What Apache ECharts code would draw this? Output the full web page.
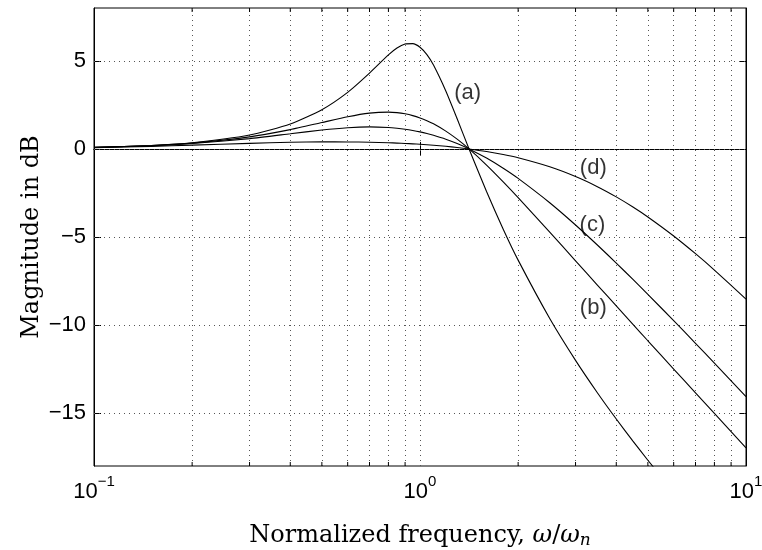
<!DOCTYPE html>
<html>
<head>
<meta charset="utf-8">
<script src="https://cdn.jsdelivr.net/npm/echarts@6/dist/echarts.min.js"></script>
<style>
  html, body { margin: 0; padding: 0; background: #fff; }
  #chart { width: 762px; height: 550px; }
</style>
</head>
<body>
<div id="chart"></div>
<script>
// ---- data ----
const freq = [0.1, 0.15, 0.2, 0.3, 0.4, 0.5, 0.6, 0.7, 0.8, 0.85, 0.9, 0.95, 1.0, 1.05, 1.1, 1.2, 1.3, 1.414, 1.6, 1.8, 2, 2.5, 3, 3.5, 4, 4.5, 5, 6, 7, 8, 10];
const curveA = [0.087, 0.196, 0.349, 0.791, 1.417, 2.229, 3.212, 4.306, 5.337, 5.726, 5.956, 5.979, 5.772, 5.351, 4.761, 3.289, 1.712, 0, -2.420, -4.555, -6.313, -9.625, -12.003, -13.840, -15.332, -16.588, -17.672, -19.478, -20.954, -22.202, -24.247];
const curveB = [0.086, 0.189, 0.327, 0.684, 1.096, 1.498, 1.826, 2.032, 2.089, 2.059, 1.992, 1.892, 1.761, 1.604, 1.424, 1.012, 0.553, 0, -0.914, -1.867, -2.762, -4.724, -6.351, -7.726, -8.914, -9.959, -10.890, -12.496, -13.849, -15.019, -16.968];
const curveC = [0.084, 0.181, 0.304, 0.587, 0.859, 1.072, 1.203, 1.249, 1.218, 1.176, 1.120, 1.050, 0.969, 0.877, 0.776, 0.552, 0.304, 0, -0.521, -1.098, -1.675, -3.057, -4.318, -5.454, -6.480, -7.409, -8.256, -9.750, -11.035, -12.159, -14.055];
const curveD = [0.075, 0.144, 0.213, 0.317, 0.375, 0.398, 0.397, 0.380, 0.350, 0.331, 0.311, 0.288, 0.263, 0.237, 0.209, 0.148, 0.082, 0, -0.146, -0.318, -0.504, -1.014, -1.567, -2.141, -2.722, -3.298, -3.863, -4.943, -5.948, -6.876, -8.525];

const curveLabels = ['(a)', '(b)', '(c)', '(d)'];
const labelFreq = [1.40, 3.40, 3.38, 3.40];
const labelDb = [3.2, -9.0, -4.3, -1.1];

const yTicks = [-15, -10, -5, 0, 5];
const xMajor = [1];
const xMinor = [0.2, 0.3, 0.4, 0.5, 0.6, 0.7, 0.8, 0.9, 2, 3, 4, 5, 6, 7, 8, 9];

const X_MIN = 0.1, X_MAX = 10, Y_MIN = -18, Y_MAX = 8;

// ---- build ----
const pairs = (ys) => freq.map((f, i) => [f, ys[i]]);
const sans = 'Liberation Sans, Arial, Helvetica, sans-serif';
const serif = 'DejaVu Serif, serif';
const gridDot = { color: '#555', width: 1, type: [1, 4] };

const markLines = [];
xMinor.concat(xMajor).forEach(v => markLines.push({ xAxis: v }));
yTicks.forEach(v => markLines.push({ yAxis: v }));

const lineSeries = (ys, extra) => Object.assign({
  type: 'line',
  data: pairs(ys),
  showSymbol: false,
  smooth: 0.2,
  clip: true,
  lineStyle: { color: '#000', width: 1.1 },
  silent: true,
  z: 5
}, extra || {});

const chart = echarts.init(document.getElementById('chart'), null, { renderer: 'canvas' });

const option = {
  animation: false,
  backgroundColor: '#fff',
  grid: {
    left: 94, right: 16, top: 8, bottom: 84,
    outerBoundsMode: 'none', containLabel: false,
    show: true, borderColor: '#000', borderWidth: 1, backgroundColor: 'transparent'
  },
  xAxis: [{
    type: 'log', logBase: 10, min: X_MIN, max: X_MAX,
    axisLine: { show: true, lineStyle: { color: '#000', width: 1 } },
    axisTick: { show: true, inside: true, length: 7, lineStyle: { color: '#000' } },
    splitLine: { show: false },
    axisLabel: {
      margin: 8,
      formatter: (v) => {
        const e = Math.round(Math.log10(v));
        return '{b|10}{s|' + (e < 0 ? '−' + (-e) : e) + '}';
      },
      rich: {
        b: { fontFamily: sans, fontSize: 22, color: '#000', verticalAlign: 'bottom' },
        s: { fontFamily: sans, fontSize: 15, color: '#000', verticalAlign: 'top', padding: [0, 0, 14, 0] }
      }
    },
    name: 'Normalized frequency, {i|ω}/{i|ω}{sub|n}',
    nameLocation: 'middle',
    nameGap: 56,
    nameMoveOverlap: false,
    nameTextStyle: {
      fontFamily: serif, fontSize: 24, color: '#000',
      rich: {
        i: { fontFamily: serif, fontStyle: 'italic', fontSize: 24, color: '#000' },
        sub: { fontFamily: serif, fontStyle: 'italic', fontSize: 17, color: '#000', padding: [10, 0, 0, 0] }
      }
    }
  }, {
    type: 'log', logBase: 10, min: X_MIN, max: X_MAX, position: 'top',
    axisLine: { show: true, lineStyle: { color: '#000', width: 1 } },
    axisTick: { show: true, inside: true, length: 7, lineStyle: { color: '#000' } },
    axisLabel: { show: false },
    splitLine: { show: false }
  }],
  yAxis: [{
    type: 'value', min: Y_MIN, max: Y_MAX,
    axisLine: { show: true, lineStyle: { color: '#000', width: 1 } },
    axisTick: { show: true, inside: true, length: 7, customValues: yTicks, lineStyle: { color: '#000' } },
    splitLine: { show: false },
    axisLabel: {
      customValues: yTicks,
      margin: 8,
      fontFamily: sans, fontSize: 22, color: '#000',
      formatter: (v) => String(v).replace('-', '−')
    },
    name: 'Magnitude in dB',
    nameLocation: 'middle',
    nameGap: 50,
    nameMoveOverlap: false,
    nameTextStyle: { fontFamily: serif, fontSize: 24, color: '#000' }
  }, {
    type: 'value', min: Y_MIN, max: Y_MAX, position: 'right',
    axisLine: { show: true, lineStyle: { color: '#000', width: 1 } },
    axisTick: { show: true, inside: true, length: 7, customValues: yTicks, lineStyle: { color: '#000' } },
    axisLabel: { show: false },
    splitLine: { show: false }
  }],
  series: [
    lineSeries(curveA, {
      name: 'a',
      markLine: {
        silent: true, symbol: 'none', label: { show: false },
        lineStyle: gridDot, data: markLines, z: 1
      }
    }),
    lineSeries(curveB, { name: 'b' }),
    lineSeries(curveC, { name: 'c' }),
    lineSeries(curveD, { name: 'd' }),
    {
      type: 'custom',
      name: 'minorTicks',
      silent: true,
      data: xMinor.map(v => [v]),
      renderItem: (params, api) => {
        const x = api.value(0);
        const pb = api.coord([x, Y_MIN]);
        const pt = api.coord([x, Y_MAX]);
        return {
          type: 'group',
          children: [
            { type: 'line', shape: { x1: pb[0], y1: pb[1], x2: pb[0], y2: pb[1] - 4 }, style: { stroke: '#000', lineWidth: 1 } },
            { type: 'line', shape: { x1: pt[0], y1: pt[1], x2: pt[0], y2: pt[1] + 4 }, style: { stroke: '#000', lineWidth: 1 } }
          ]
        };
      },
      z: 6
    },
    {
      type: 'scatter',
      name: 'labels',
      silent: true,
      symbolSize: 0,
      data: curveLabels.map((t, i) => [labelFreq[i], labelDb[i], t]),
      label: {
        show: true, position: 'inside',
        formatter: (p) => p.value[2],
        fontFamily: sans, fontSize: 22, color: '#000'
      },
      z: 7
    }
  ]
};
chart.setOption(option);
</script>
</body>
</html>
